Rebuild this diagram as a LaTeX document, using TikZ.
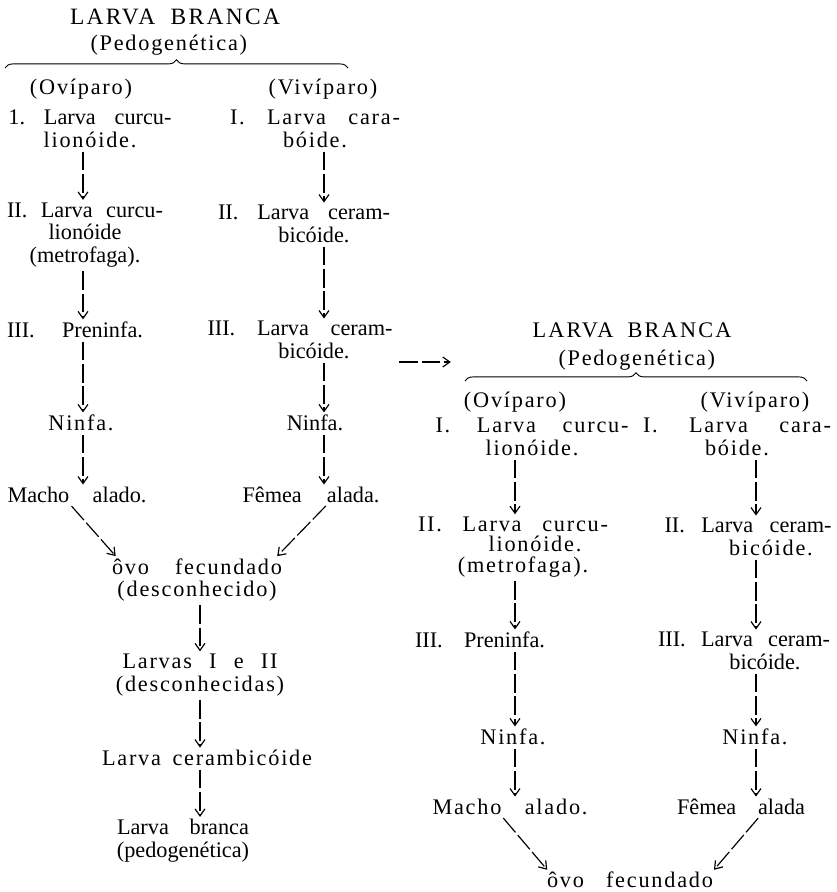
\documentclass[tikz,border=0pt]{standalone}
\usepackage{fontspec}
\setmainfont{Liberation Serif}
\newfontfamily\esp[LetterSpace=8]{Liberation Serif}
\newfontfamily\espt[LetterSpace=10]{Liberation Serif}
\usetikzlibrary{arrows.meta,decorations.pathreplacing}
\frenchspacing

% one unit of the drawing grid
\newlength\pxu
\setlength\pxu{0.03cm}
% a line set to a given width (spaces stretch)
\newcommand\linha[2]{\makebox[#1\pxu][s]{#2}}

\begin{document}
\begin{tikzpicture}[x=0.03cm,y=-0.03cm,
  etapa/.style = {align=center,inner sep=1pt,font=\fontsize{19}{19.5}\selectfont},
  espacada/.style = {etapa,font=\fontsize{19}{19.5}\selectfont\esp},
  titulo/.style = {inner sep=1pt,font=\fontsize{20}{21}\selectfont\espt},
  seta/.style = {-{Straight Barb[length=6pt,width=8.5pt]},line width=1pt,
                 dash pattern=on 16pt off 3pt,shorten <=2pt,shorten >=1pt},
  chave/.style = {decorate,decoration={brace,amplitude=7pt},line width=0.8pt}]
\useasboundingbox (0,0) rectangle (837,892);

% columns of the arrows
\coordinate (colA) at (83,0);
\coordinate (colB) at (324,0);
\coordinate (colC) at (200,0);
\coordinate (colD) at (515,0);
\coordinate (colE) at (756,0);

% first cycle
\node[titulo] (tA) at (175,17) {\linha{210}{LARVA BRANCA}};
\node[espacada] (pA) at (172,45) {\linha{163}{(Pedogenética)}};
\draw[chave] (5,68) -- (348,68);
\node[espacada] (oA) at (81,89) {(Ovíparo)};
\node[espacada] (vA) at (323,89) {(Vivíparo)};

\node[espacada] (a1) at (90,129) {\linha{163}{\rmfamily 1. Larva curcu-}\\lionóide.};
\node[espacada] (b1) at (315,129) {\linha{170}{I. Larva cara-}\\bóide.};
\node[etapa] (a2) at (85,235) {\linha{156}{II. Larva curcu-}\\lionóide\\(metrofaga).};
\node[etapa] (b2) at (304,224) {\linha{172}{II. Larva ceram-}\\\hspace*{20\pxu}bicóide.};
\node[etapa] (a3) at (75,330) {\linha{136}{III. Preninfa.}};
\node[etapa] (b3) at (300,340) {\linha{185}{III. Larva ceram-}\\\hspace*{28\pxu}bicóide.};
\node[espacada] (a4) at (81,423) {Ninfa.};
\node[etapa] (b4) at (315,423) {Ninfa.};
\node[etapa] (a5) at (77,495) {\linha{139}{Macho alado.}};
\node[etapa] (b5) at (311,495) {\linha{137}{Fêmea alada.}};

\node[espacada] (c1) at (197,580) {\linha{170}{ôvo fecundado}\\(desconhecido)};
\node[espacada] (c2) at (200,675) {\linha{155}{Larvas I e II}\\(desconhecidas)};
\node[espacada] (c3) at (207,758) {\linha{210}{Larva cerambicóide}};
\node[etapa] (c4) at (183,841) {\linha{132}{Larva branca}\\(pedogenética)};

\draw[seta] (a1.south -| colA) -- (a2.north -| colA);
\draw[seta] (a2.south -| colA) -- (a3.north -| colA);
\draw[seta] (a3.south -| colA) -- (a4.north -| colA);
\draw[seta] (a4.south -| colA) -- (a5.north -| colA);
\draw[seta] (b1.south -| colB) -- (b2.north -| colB);
\draw[seta] (b2.south -| colB) -- (b3.north -| colB);
\draw[seta] (b3.south -| colB) -- (b4.north -| colB);
\draw[seta] (b4.south -| colB) -- (b5.north -| colB);
\draw[seta] ([xshift=-6pt]a5.south) -- ([xshift=5pt]c1.north west);
\draw[seta] ([xshift=14pt]b5.south) -- ([xshift=-6pt]c1.north east);
\draw[seta] (c1.south -| colC) -- (c2.north -| colC);
\draw[seta] (c2.south -| colC) -- (c3.north -| colC);
\draw[seta] (c3.south -| colC) -- (c4.north -| colC);

% link to the second cycle
\coordinate (ligaA) at (397,362);
\coordinate (ligaB) at (452,362);
\draw[seta] (ligaA) -- (ligaB);

% second cycle
\node[titulo,font=\fontsize{19}{21}\selectfont\espt] (tB) at (632,330) {\linha{199}{LARVA BRANCA}};
\node[espacada] (pB) at (636,360) {\linha{155}{(Pedogenética)}};
\draw[chave] (465,381) -- (807,381);
\node[espacada] (oB) at (515,402) {(Ovíparo)};
\node[espacada] (vB) at (755,402) {(Vivíparo)};

\node[espacada] (d1) at (532,437) {\linha{193}{I. Larva curcu-}\\lionóide.};
\node[espacada] (e1) at (737,437) {\linha{188}{I. Larva cara-}\\bóide.};
\node[espacada,font=\fontsize{19}{17.5}\selectfont\esp] (d2) at (513,547)
  {\linha{190}{II. Larva curcu-}\\\hspace*{44\pxu}lionóide.\\\hspace*{20\pxu}(metrofaga).};
\node[etapa] (e2) at (748,537) {\linha{167}{II. Larva ceram-}\\\hspace*{46\pxu}{\esp bicóide.}};
\node[etapa] (d3) at (480,640) {\linha{130}{III. Preninfa.}};
\node[etapa] (e3) at (744,651) {\linha{172}{III. Larva ceram-}\\\hspace*{42\pxu}bicóide.};
\node[espacada] (d4) at (513,737) {Ninfa.};
\node[espacada] (e4) at (755,737) {Ninfa.};
\node[espacada] (d5) at (510,807) {\linha{155}{Macho alado.}};
\node[etapa] (e5) at (741,807) {\linha{128}{Fêmea alada}};
\node[espacada] (f1) at (630,880) {\linha{166}{ôvo fecundado}};

\draw[seta] (d1.south -| colD) -- (d2.north -| colD);
\draw[seta] (d2.south -| colD) -- (d3.north -| colD);
\draw[seta] (d3.south -| colD) -- (d4.north -| colD);
\draw[seta] (d4.south -| colD) -- (d5.north -| colD);
\draw[seta] (e1.south -| colE) -- (e2.north -| colE);
\draw[seta] (e2.south -| colE) -- (e3.north -| colE);
\draw[seta] (e3.south -| colE) -- (e4.north -| colE);
\draw[seta] (e4.south -| colE) -- (e5.north -| colE);
\draw[seta] ([xshift=-7pt]d5.south) -- ([xshift=2pt]f1.north west);
\draw[seta] ([xshift=16pt]e5.south) -- ([xshift=-1pt]f1.north east);
\end{tikzpicture}
\end{document}
